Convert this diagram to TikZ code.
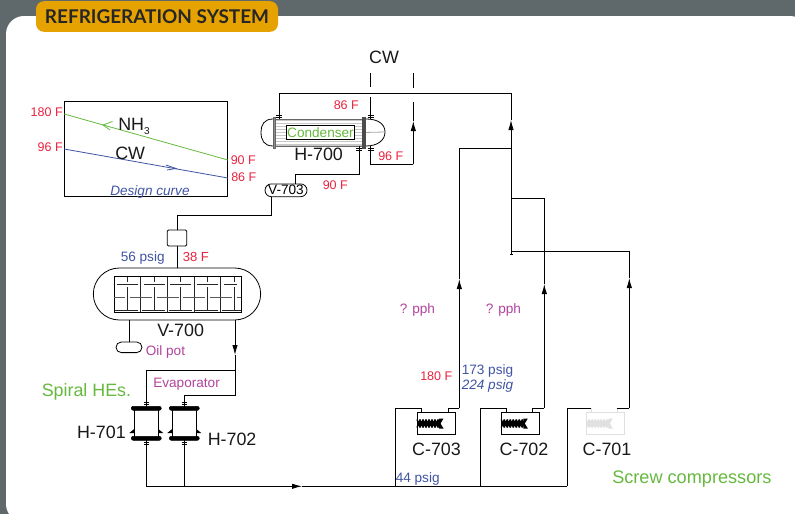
\documentclass[tikz,border=0pt]{standalone}
\usepackage{fontspec}
\setmainfont{Liberation Sans}
\newfontfamily\titlefont{Lato}
\usetikzlibrary{arrows.meta}
\usetikzlibrary{shapes.misc}
\definecolor{panelgray}{HTML}{5F686A}
\definecolor{tabgold}{HTML}{E6A200}
\definecolor{tempred}{HTML}{EA2340}
\definecolor{presblue}{HTML}{3F54A4}
\definecolor{namegreen}{HTML}{66B93F}
\definecolor{notepink}{HTML}{B2439C}
\tikzset{
  lbl/.style={inner sep=0pt,font=\fontsize{10.2}{12}\selectfont},
  tag/.style={inner sep=0pt,font=\fontsize{13.4}{15}\selectfont,text=black!90},
  temp/.style={lbl,font=\fontsize{9.4}{11}\selectfont,text=tempred},
  pres/.style={lbl,text=presblue},
  note/.style={lbl,text=notepink},
  pipe/.style={draw=black,line width=0.6pt},
  flow/.style={pipe,-{Latex[length=7.5pt,width=4pt]}},
  nozzle/.style={line width=0.6pt},
  flange/.style={draw=black,fill=black,rounded corners=1.5pt,inner sep=0pt,minimum width=22.5pt,minimum height=3pt},
  press/.style={draw=black,line width=0.6pt,inner sep=0pt,minimum width=28.5pt,minimum height=16.8pt},
  screwpart/.style={line width=1pt,draw=black},
}
\begin{document}
\begin{tikzpicture}[x=0.75pt,y=-0.75pt]
\useasboundingbox (0,0) rectangle (795,514);
\clip (0,0) rectangle (795,514);
\fill[panelgray] (0,0) rectangle (795,514);
\fill[white,rounded corners=13.5pt] (6,16) rectangle (808,522);
\node[fill=tabgold,rounded corners=6pt,minimum width=181.5pt,minimum height=23pt,inner sep=0pt,
  font=\titlefont\fontsize{14.2}{15}\bfseries\selectfont,text=black!85](title) at (157,16.5) {\raisebox{-2.5pt}{REFRIGERATION SYSTEM}};

\node[draw=black,line width=0.6pt,minimum width=122.2pt,minimum height=71.2pt,inner sep=0pt](curve) at (146,148.5) {};
\coordinate(nh3l) at (curve.west |- 0,114);
\coordinate(nh3r) at (curve.east |- 0,160);
\coordinate(nh3m) at (103,125);
\coordinate(cwl) at (curve.west |- 0,149);
\coordinate(cwr) at (curve.east |- 0,178);
\coordinate(cwm) at (176,168.5);
\draw[namegreen,line width=0.6pt] (nh3l)--(nh3r);
\draw[presblue,line width=0.6pt] (cwl)--(cwr);
\draw[namegreen,line width=0.6pt] (110,130)--(nh3m)--(112.5,121.5);
\draw[presblue,line width=0.6pt] (166,165)--(cwm)--(167,170);
\node[tag,anchor=base west](nh3) at (118,130) {NH\raisebox{-3pt}{\fontsize{7.5}{9}\selectfont 3}};
\node[tag,anchor=base west](cwcurve) at (115,159.5) {CW};
\node[pres,anchor=base west,font=\itshape\fontsize{10.2}{12}\selectfont](design) at (110,195) {Design curve};
\node[temp,anchor=base east](t180a) at (63,116) {180 F};
\node[temp,anchor=base east](t96a) at (63,151) {96 F};
\node[temp,anchor=base west](t90a) at (230.5,164) {90 F};
\node[temp,anchor=base west](t86a) at (231,181.5) {86 F};

\node[draw=black!60,line width=0.5pt,fill=black!22,minimum width=67pt,minimum height=20.2pt,inner sep=0pt](h700) at (319,132.5) {};
\foreach \y in {122,125,128,131,134,137,140,143} {
  \draw[white,line width=0.9pt] (h700.west |- 0,\y)--(h700.east |- 0,\y);
}
\node[draw=black!60,fill=black!45,inner sep=0pt,minimum width=1.6pt,minimum height=23pt](h700fl) at (h700.west) {};
\node[draw=black!70,fill=black!70,inner sep=0pt,minimum width=2.6pt,minimum height=23pt](h700fr) at (h700.east) {};
\draw[line width=0.6pt] (273,119) .. controls (264,119) and (261,125) .. (261,132) .. controls (261,140) and (264,146) .. (273,146);
\draw[line width=0.6pt] (366,119) .. controls (378,119) and (385,124) .. (385,132) .. controls (385,140) and (378,146) .. (366,146);
\draw[black!35,line width=0.6pt] (h700fr)--(384,132);
\node[draw=black,fill=white,line width=0.6pt,inner sep=0pt,minimum width=51.5pt,minimum height=10pt,
  text=namegreen,font=\fontsize{10.2}{11}\selectfont](cond) at (320.5,132.3) {Condenser};
\node[tag,anchor=base west](h700t) at (294,160.5) {H-700};
\node[tag,anchor=base](cwtop) at (384,63.5) {CW};
\node[temp,anchor=base west](t86b) at (333.5,109.5) {86 F};
\node[temp,anchor=base west](t96b) at (378,160.5) {96 F};
\node[temp,anchor=base west](t90b) at (322.5,189.5) {90 F};

\coordinate(topin) at (279,115);
\coordinate(topa) at (279,93);
\coordinate(topb) at (511,93);
\coordinate(topc) at (511,120);
\coordinate(topd) at (511,254);
\draw[pipe] (topin)--(topa)--(topb);
\draw[flow] (topd)--(topc);
\draw[pipe] (topc)--(topb);
\draw[nozzle] (509.5,254)--(512.5,254);
\draw[nozzle] (276,115)--(282,115) (279,115)--(279,119) (276,117.5)--(282,117.5);
\coordinate(cwa) at (370.5,73);
\coordinate(cwb) at (370.5,87);
\coordinate(cwc) at (370.5,97);
\coordinate(cwd) at (370.5,115);
\draw[pipe] (cwa)--(cwb);
\draw[pipe] (cwc)--(cwd);
\draw[nozzle] (367.5,115)--(373.5,115) (367.5,117.5)--(373.5,117.5) (370.5,115)--(370.5,119);
\coordinate(cwe) at (413.3,73);
\coordinate(cwf) at (413.3,88);
\coordinate(cwg) at (413.3,102);
\coordinate(cwh) at (413.3,164.3);
\coordinate(cwi) at (370.5,164.3);
\coordinate(cwj) at (370.5,150);
\coordinate(cwk) at (413.3,121);
\draw[pipe] (cwg)--(cwk);
\draw[pipe] (cwe)--(cwf);
\draw[flow] (cwh)--(cwk);
\draw[pipe] (cwh)--(cwi)--(cwj);
\draw[nozzle] (367.5,148.5)--(373.5,148.5) (367.5,150.5)--(373.5,150.5) (370.5,146)--(370.5,150);

\node[draw=black,line width=0.6pt,rounded rectangle,inner sep=0pt,minimum width=31.5pt,minimum height=9.6pt,
  font=\fontsize{10.2}{12}\selectfont](v703) at (286,190.3) {V-703};
\coordinate(cona) at (359,150);
\coordinate(conb) at (359,174.5);
\coordinate(conc) at (295.5,174.5);
\draw[pipe] (cona)--(conb)--(conc)--(conc |- v703.north);
\draw[nozzle] (356,148.5)--(362,148.5) (356,150.5)--(362,150.5) (359,146)--(359,150);

\node[draw=black,line width=0.6pt,rounded corners=1pt,inner sep=0pt,minimum width=14.7pt,minimum height=12pt](valve) at (177,238) {};
\coordinate(vlva) at (271.7,215);
\coordinate(vlvb) at (177,215);
\draw[pipe] (271.7,196.7)--(vlva)--(vlvb)--(valve.north);

\node[draw=black,line width=0.6pt,rounded rectangle,inner sep=0pt,minimum width=125.5pt,minimum height=39pt](v700) at (177,294) {};
\draw[pipe] (valve.south)--(v700.north -| valve.south);
\node[draw=black,line width=0.6pt,inner sep=0pt,minimum width=95.2pt,minimum height=27pt](bundle) at (177.5,294.7) {};
\foreach \x in {140.7,167.3,194.3,220.7} {
  \draw[black!85,line width=0.6pt] (\x,276.7)--(\x,312.7);
}
\foreach \x in {127.3,154,180.7,207.3,234} {
  \draw[black!85,line width=0.5pt] (\x,276.7)--(\x,282);
  \draw[black!85,line width=0.5pt] (\x,287)--(\x,310);
  \draw[black!85,line width=0.5pt] (\x-10.5,284.3)--({min(\x+10.5,236.7)},284.3);
  \draw[black!85,line width=0.6pt] (\x-12,310.7)--({min(\x+11,241)},310.7);
  \draw[black!65,line width=0.6pt] (\x+2.7,297.7)--({min(\x+24.5,241)},297.7);
}
\draw[black!65,line width=0.6pt] (bundle.west |- 0,297.7)--(125,297.7);
\node[tag,anchor=base west](v700t) at (157,336.5) {V-700};
\node[pres,anchor=base west](p56) at (120.5,261.5) {56 psig};
\node[temp,anchor=base west,font=\fontsize{9.8}{11}\selectfont](t38) at (182.5,261.5) {38 F};
\node[draw=black,line width=0.6pt,rounded rectangle,inner sep=0pt,minimum width=19.5pt,minimum height=8pt](oilpot) at (129,347.3) {};
\draw[pipe] (oilpot.north -| 129.7,0)--(129.7,320);
\node[note,anchor=base west](oil) at (145.5,355) {Oil pot};

\coordinate(evopa) at (235,320);
\coordinate(evopb) at (235,355);
\coordinate(evopc) at (235,370);
\coordinate(evopd) at (146.3,370);
\coordinate(evope) at (235,395.7);
\coordinate(evopf) at (184.3,395.7);
\draw[flow] (evopa)--(evopb);
\draw[pipe] (evopb)--(evope)--(evopf)--(184.3,402);
\draw[pipe] (evopc)--(evopd)--(146.3,402);
\node[note,anchor=base west](evap) at (153,387) {Evaporator};

\foreach \nm/\x in {h701/146.3,h702/184.3} {
  \node[flange](\nm top) at (\x,408.3) {};
  \node[flange](\nm bot) at (\x,438.3) {};
  \draw[line width=0.6pt] (\x-12,408.3)--(\x-12,438.3);
  \draw[line width=0.6pt] (\x+12,408.3)--(\x+12,438.3);
  \fill (\x-12,429)--(\x-12,433)--(\x-17,433)--cycle;
  \fill (\x+12,429)--(\x+12,433)--(\x+17,433)--cycle;
  \draw[nozzle] (\x-2.5,402)--(\x+2.5,402) (\x-2.5,404.5)--(\x+2.5,404.5) (\x,402)--(\x,407);
  \draw[nozzle] (\x-2.5,442)--(\x+2.5,442) (\x-2.5,444.5)--(\x+2.5,444.5) (\x,440)--(\x,445);
}
\node[text=namegreen,inner sep=0pt,font=\fontsize{13.4}{15}\selectfont,anchor=base west](spiral) at (41.5,396.5) {Spiral HEs.};
\node[tag,anchor=base east](h701t) at (126,438) {H-701};
\node[tag,anchor=base west](h702t) at (207.5,445) {H-702};

\coordinate(maina) at (146.3,486.3);
\coordinate(mainb) at (302,486.3);
\coordinate(mainc) at (567.3,486.3);
\coordinate(maind) at (184.3,486.3);
\coordinate(maine) at (395.7,486.3);
\coordinate(mainf) at (480.7,486.3);
\draw[flow] (maina)--(mainb);
\draw[pipe] (mainb)--(mainc);
\draw[pipe] (146.3,445)--(maina);
\draw[pipe] (184.3,445)--(maind);

\foreach \nm/\x/\col in {c703/436/black,c702/520.3/black,c701/605.3/black!12} {
  \node[press,draw=\col](\nm) at (\x,423.5) {};
  \foreach \k in {0,3,...,21} {
    \draw[screwpart,draw=\col] (\x-19+\k,419.5)--(\x-19+\k+3,427.5);
    \draw[screwpart,draw=\col] (\x-19+\k,427.5)--(\x-19+\k+3,419.5);
  }
  \draw[line width=3.5pt,draw=\col] (\x-19,423.5)--(\x+3,423.5);
  \fill[\col] (\x+3,418.5)--(\x+7.5,418.5)--(\x+4.5,423.5)--(\x+7.5,428.5)--(\x+3,428.5)--cycle;
}
\coordinate(c703ia) at (395.7,408.3);
\coordinate(c703ib) at (421.7,408.3);
\coordinate(c703oa) at (448.3,408.3);
\coordinate(c703ob) at (459.3,408.3);
\coordinate(c703oc) at (459.3,279);
\coordinate(c703od) at (459.3,148.7);
\coordinate(c703oe) at (511,148.7);
\draw[pipe] (maine)--(c703ia)--(c703ib)--(c703ib |- c703.north);
\draw[pipe] (c703oa |- c703.north)--(c703oa)--(c703ob);
\draw[flow] (c703ob)--(c703oc);
\draw[pipe] (c703oc)--(c703od)--(c703oe);
\coordinate(c702ia) at (480.7,408.3);
\coordinate(c702ib) at (506.7,408.3);
\coordinate(c702oa) at (532.7,408.3);
\coordinate(c702ob) at (544.3,408.3);
\coordinate(c702oc) at (544.3,284);
\coordinate(c702od) at (544.3,198.7);
\coordinate(c702oe) at (511,198.7);
\draw[pipe] (mainf)--(c702ia)--(c702ib)--(c702ib |- c702.north);
\draw[pipe] (c702oa |- c702.north)--(c702oa)--(c702ob);
\draw[flow] (c702ob)--(c702oc);
\draw[pipe] (c702oc)--(c702od)--(c702oe);
\coordinate(c701ia) at (567.3,408.3);
\coordinate(c701ib) at (591,408.3);
\coordinate(c701oa) at (617.3,408.3);
\coordinate(c701ob) at (629.3,408.3);
\coordinate(c701oc) at (629.3,278);
\coordinate(c701od) at (629.3,251.7);
\coordinate(c701oe) at (511,251.7);
\draw[pipe] (mainc)--(c701ia)--(c701ib);
\draw[black!12,line width=0.6pt] (c701ib)--(c701ib |- c701.north);
\draw[black!12,line width=0.6pt] (c701oa |- c701.north)--(c701oa);
\draw[pipe] (c701oa)--(c701ob);
\draw[flow] (c701ob)--(c701oc);
\draw[pipe] (c701oc)--(c701od)--(c701oe);

\node[tag,anchor=base](c703t) at (436.5,455) {C-703};
\node[tag,anchor=base](c702t) at (524,455) {C-702};
\node[tag,anchor=base](c701t) at (607,455) {C-701};
\node[pres,anchor=base west](p44) at (395.5,482) {44 psig};
\node[temp,anchor=base west](t180b) at (420,380) {180 F};
\node[pres,anchor=base west](p173) at (461.5,374.5) {173 psig};
\node[pres,anchor=base west,font=\itshape\fontsize{10.2}{12}\selectfont](p224) at (461.5,389.5) {224 psig};
\node[note,anchor=base west](pph1) at (399.5,313) {? pph};
\node[note,anchor=base west](pph2) at (485.5,313) {? pph};
\node[text=namegreen,inner sep=0pt,font=\fontsize{13.6}{15}\selectfont,anchor=base west](screw) at (612,483) {Screw compressors};
\end{tikzpicture}
\end{document}
